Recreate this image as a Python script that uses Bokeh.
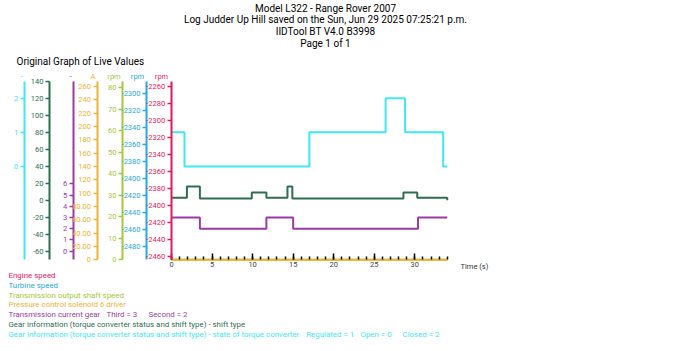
from bokeh.plotting import figure
from bokeh.models import Range1d, LinearAxis, FixedTicker, Label
from bokeh.embed import file_html
from bokeh.resources import INLINE

W, H = 699, 351
FONT = "Roboto"

# ---------------- data ----------------
time_state = [0, 1.6, 17.0, 26.4, 28.8, 33.5, 34.0]
state_tc = [1, 0, 1, 2, 1, 0, 0]

time_shift = [0, 1.9, 3.5, 9.9, 11.7, 14.3, 14.9, 28.6, 30.3, 34.0]
shift_type = [3, 16, 2, 9, 3, 16, 2, 9, 3, 0]

time_gear = [0, 3.5, 11.7, 15.0, 30.4, 34.0]
gear = [3, 2, 3, 2, 3, 3]

time_pcs = [0, 34.0]
pcs = [0, 0]

time_oss = [0, 34.0]
oss = [0, 0]

state_ticks = [0, 1, 2]
shift_ticks = list(range(-60, 141, 20))
gear_ticks = list(range(0, 7))
pcs_ticks = list(range(0, 261, 20))
pcs_labels = {20: "20.00", 40: "40.00", 60: "60.00", 80: "80.00"}
oss_ticks = list(range(0, 81, 10))
turbine_ticks = list(range(-2480, -2299, 20))
engine_ticks = list(range(-2460, -2259, 20))
time_major = [0, 5, 10, 15, 20, 25, 30]
time_minor = list(range(0, 35))

title_lines = ["Model L322 - Range Rover 2007",
               "Log Judder Up Hill saved on the Sun, Jun 29 2025 07:25:21 p.m.",
               "IIDTool BT V4.0 B3998",
               "Page 1 of 1"]
legend_items = ["Engine speed", "Turbine speed", "Transmission output shaft speed",
                "Pressure control solenoid 6 driver", "Transmission current gear",
                "Gear information (torque converter status and shift type) - shift type",
                "Gear information (torque converter status and shift type) - state of torque converter"]
gear_states = ["Third = 3", "Second = 2"]
tc_states = ["Regulated = 1", "Open = 0", "Closed = 2"]

# ---------------- layout ----------------
C_ENG = "#e3195b"
C_TUR = "#29a9df"
C_OSS = "#a3c93a"
C_PCS = "#f0b232"
C_GEAR = "#9c3aa5"
C_SHIFT = "#2e6e50"
C_STATE = "#3ee8f5"

X0_PX, PX_PER_S = 171.0, 8.11
x_range = Range1d(-X0_PX / PX_PER_S, (W - X0_PX) / PX_PER_S)

p = figure(width=W, height=H, output_backend="svg", toolbar_location=None,
           x_range=x_range, y_range=Range1d(H, 0), title=None,
           x_axis_location=None, y_axis_location=None, min_border=0,
           outline_line_color=None, background_fill_color="white")
p.xgrid.visible = False
p.ygrid.visible = False
p.extra_x_ranges = {"px": Range1d(0, W)}

FRAME_TOP, FRAME_BOT = 81.0, 259.0


def vrange(va, pa, vb, pb):
    s = (va - vb) / (pa - pb)
    f = lambda py: va + (py - pa) * s
    return Range1d(f(H), f(0)), (f(FRAME_BOT), f(FRAME_TOP))


series_axes = [
    # name, color, calibration, axis x px, ticks, overrides, unit, unit x
    ("state", C_STATE, (0, 166.0, 2, 97.7), 23.7, state_ticks, {}, "-", 21.0),
    ("shift", C_SHIFT, (140, 80.7, -60, 250.7), 49.0, shift_ticks, {}, "", 0),
    ("gear", C_GEAR, (0, 250.7, 6, 183.3), 72.7, gear_ticks, {}, "-", 70.0),
    ("pcs", C_PCS, (0, 259.3, 260, 86.0), 96.5, pcs_ticks, pcs_labels, "A", 92.5),
    ("oss", C_OSS, (0, 259.3, 80, 87.3), 122.0, oss_ticks, {}, "rpm", 113.5),
    ("turbine", C_TUR, (-2480, 245.7, -2300, 92.7), 146.0, turbine_ticks, {}, "rpm", 137.0),
    ("engine", C_ENG, (-2460, 256.0, -2260, 86.0), 170.7, engine_ticks, {}, "rpm", 161.0),
]

for name, col, cal, axx, ticks, overrides, unit, ux in series_axes:
    rng, bounds = vrange(*cal)
    p.extra_y_ranges[name] = rng
    labels = {t: str(t) for t in ticks}
    labels.update(overrides)
    ax = LinearAxis(y_range_name=name, x_range_name="px", fixed_location=axx,
                    bounds=bounds, ticker=FixedTicker(ticks=ticks, minor_ticks=[]),
                    axis_line_color=col, axis_line_width=2,
                    major_tick_line_color=col, major_tick_line_width=1.5,
                    major_tick_out=4, major_tick_in=0,
                    minor_tick_out=0, minor_tick_in=0,
                    major_label_text_color=col, major_label_text_font=FONT,
                    major_label_text_font_size="7.5px", major_label_standoff=2,
                    major_label_overrides=labels)
    p.add_layout(ax, "left")
    if unit:
        p.add_layout(Label(x=ux, y=76, x_range_name="px", text=unit,
                           text_color=col, text_font=FONT, text_font_size="7.5px",
                           text_align="center", text_baseline="middle"))

# x axis (time)
xax = LinearAxis(fixed_location=258.5, bounds=(0, 34),
                 ticker=FixedTicker(ticks=time_major, minor_ticks=time_minor),
                 axis_line_color=None,
                 major_tick_in=6, major_tick_out=0, major_tick_line_color="black",
                 major_tick_line_width=1.5,
                 minor_tick_in=3, minor_tick_out=0, minor_tick_line_color="black",
                 minor_tick_line_width=1.5,
                 major_label_text_color="#444444", major_label_text_font=FONT,
                 major_label_text_font_size="7.5px", major_label_standoff=3)
p.add_layout(xax, "below")
p.add_layout(Label(x=460, y=266, x_range_name="px", text="Time (s)", text_color="#333333",
                   text_font=FONT, text_font_size="7.5px", text_baseline="middle"))

# data lines
p.step(time_oss, oss, mode="after", y_range_name="oss", line_color=C_OSS, line_width=2)
p.step(time_pcs, pcs, mode="after", y_range_name="pcs", line_color=C_PCS, line_width=2)
p.step(time_gear, gear, mode="after", y_range_name="gear", line_color=C_GEAR, line_width=2)
p.step(time_shift, shift_type, mode="after", y_range_name="shift", line_color=C_SHIFT, line_width=2)
p.step(time_state, state_tc, mode="after", y_range_name="state", line_color=C_STATE, line_width=2)

# titles
for i, t in enumerate(title_lines):
    p.add_layout(Label(x=325, y=7.5 + i * 11.7, x_range_name="px", text=t, text_color="black",
                       text_font=FONT, text_font_size="10px", text_align="center",
                       text_baseline="middle"))
p.add_layout(Label(x=16, y=61, x_range_name="px", text="Original Graph of Live Values",
                   text_color="black", text_font=FONT, text_font_size="10px",
                   text_baseline="middle"))

# legend
LEG_FS = "7.9px"
leg_colors = [C_ENG, C_TUR, C_OSS, C_PCS, C_GEAR, C_SHIFT, C_STATE]
for i, (t, c) in enumerate(zip(legend_items, leg_colors)):
    p.add_layout(Label(x=8, y=275 + i * 9.8, x_range_name="px", text=t, text_color=c,
                       text_font=FONT, text_font_size=LEG_FS, text_baseline="middle"))
for t, xx in zip(gear_states, [106, 148]):
    p.add_layout(Label(x=xx, y=275 + 4 * 9.8, x_range_name="px", text=t, text_color=C_GEAR,
                       text_font=FONT, text_font_size=LEG_FS, text_baseline="middle"))
for t, xx in zip(tc_states, [305.7, 360, 402]):
    p.add_layout(Label(x=xx, y=275 + 6 * 9.8, x_range_name="px", text=t, text_color=C_STATE,
                       text_font=FONT, text_font_size=LEG_FS, text_baseline="middle"))

open("out.html", "w").write(file_html(p, INLINE))
